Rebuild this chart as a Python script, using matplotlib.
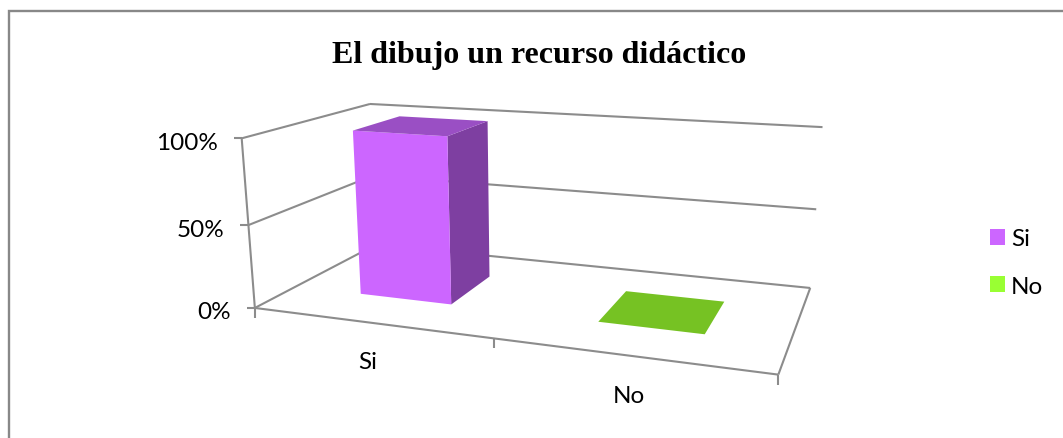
import numpy as np
import matplotlib
matplotlib.use('Agg')
import matplotlib.pyplot as plt
from matplotlib.patches import Polygon, Patch

title = "El dibujo un recurso didáctico"
categories = ["Si", "No"]
values = [100, 0]
value_ticks = [0, 50, 100]
value_labels = ["0%", "50%", "100%"]

FRONT = ["#CC66FF", "#76C223"]
SIDE = ["#7E3FA1", "#5E9A1C"]
TOP = ["#9A4FC4", "#76C223"]
LEGEND = ["#CC66FF", "#99FF33"]
GRID = "#8C8C8C"
BAR_X = (0.3, 0.7)
BAR_D = (0.3, 0.7)

# perspective camera: (category position, depth, value fraction) -> pixels
P = np.array([[3.99114892e+02, 2.02953115e+02, -2.40492310e+01, 2.54854842e+02],
              [6.65442620e+00, -9.98397746e+00, -1.75893059e+02, 3.08947502e+02],
              [-1.59787334e-01, 2.17424234e-01, -4.50378646e-02, 1.0]])


def proj(x, d, v):
    q = P @ np.array([x / len(categories), d, v / 100.0, 1.0])
    return q[:2] / q[2]


fig = plt.figure(figsize=(10.63, 4.39), dpi=100)
ax = fig.add_axes([0, 0, 1, 1])
ax.set_xlim(0, 1063)
ax.set_ylim(439, 0)
ax.axis('off')


def line(a, b, color=GRID, lw=1.5):
    ax.plot([a[0], b[0]], [a[1], b[1]], color=color, lw=lw, solid_capstyle='butt', zorder=2)


# chart frame
ax.plot([9, 9, 1063], [439, 12, 12], color="#888888", lw=1.7, solid_joinstyle='miter', zorder=1)

n = len(categories)
for v in value_ticks:
    line(proj(0, 0, v), proj(0, 1, v))
    line(proj(0, 1, v), proj(n, 1, v))
    p = proj(0, 0, v)
    line(p, (p[0] - 8, p[1]))
line(proj(0, 0, 0), proj(0, 0, 100))
line(proj(0, 0, 0), proj(n, 0, 0))
line(proj(n, 0, 0), proj(n, 1, 0))
for i in range(n + 1):
    p = proj(i, 0, 0)
    line(p, (p[0], p[1] + 10))

FONT = "Lato"
FS = 17.5
for v, lab in zip(value_ticks, value_labels):
    p = proj(0, 0, v)
    ax.text(p[0] - 24, p[1] + 4, lab, ha='right', va='center', fontsize=FS, family=FONT, color='black')
label_drop = [39, 40]
label_shift = [-2, -1]
for i, lab in enumerate(categories):
    p = proj(i + 0.5, 0, 0)
    ax.text(p[0] + label_shift[i], p[1] + label_drop[i], lab, ha='center', va='center',
            fontsize=FS, family=FONT, color='black')

# bars
for i, v in enumerate(values):
    x0, x1 = i + BAR_X[0], i + BAR_X[1]
    d0, d1 = BAR_D
    if v > 0:
        ax.add_patch(Polygon([proj(x1, d0, 0), proj(x1, d1, 0), proj(x1, d1, v), proj(x1, d0, v)],
                             fc=SIDE[i], ec='none', zorder=3))
        ax.add_patch(Polygon([proj(x0, d0, 0), proj(x1, d0, 0), proj(x1, d0, v), proj(x0, d0, v)],
                             fc=FRONT[i], ec='none', zorder=4))
    ax.add_patch(Polygon([proj(x0, d0, v), proj(x1, d0, v), proj(x1, d1, v), proj(x0, d1, v)],
                         fc=TOP[i], ec='none', zorder=4))

ax.text(539, 56, title, ha='center', va='center', fontsize=23, fontweight='bold',
        family='Liberation Serif', color='black')

handles = [Patch(fc=c, ec='none', label=l) for c, l in zip(LEGEND, categories)]
ax.legend(handles=handles, loc='center left', bbox_to_anchor=(990 / 1063, 1 - 263.5 / 439), frameon=False,
          prop={'family': FONT, 'size': FS}, handlelength=0.62, handleheight=0.62,
          handletextpad=0.25, labelspacing=1.08, borderpad=0, borderaxespad=0)

fig.savefig('out.png', dpi=100)
